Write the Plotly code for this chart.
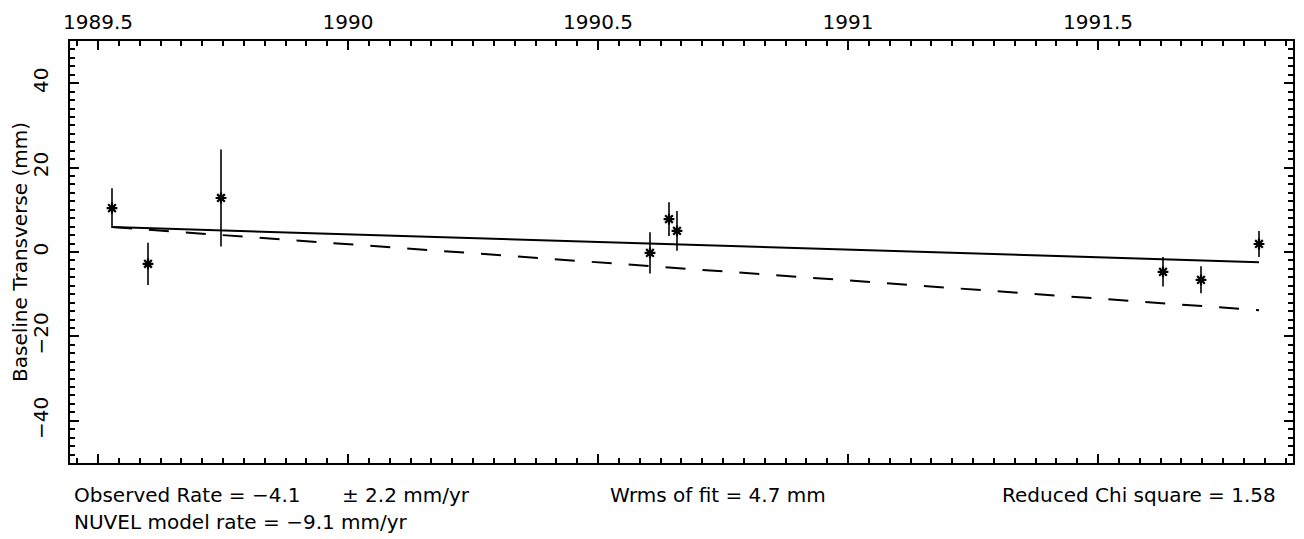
import plotly.graph_objects as go

# Data
years = [1989.528, 1989.600, 1989.746, 1990.604, 1990.642, 1990.658, 1991.630, 1991.706, 1991.822]
transverse = [10.4, -2.8, 12.8, -0.2, 7.8, 5.0, -4.7, -6.6, 1.9]
sigma = [4.7, 5.0, 11.5, 4.9, 4.0, 4.7, 3.5, 3.2, 3.1]

fit_years = [1989.528, 1991.822]
fit_values = [5.9, -2.4]          # observed rate fit (solid)
model_values = [5.9, -13.8]       # NUVEL model rate (dashed)

x_ticks = [1989.5, 1990, 1990.5, 1991, 1991.5]
x_tick_labels = ["1989.5", "1990", "1990.5", "1991", "1991.5"]
y_ticks = [-40, -20, 0, 20, 40]
y_tick_labels = ["\u221240", "\u221220", "0", "20", "40"]

FONT = "DejaVu Sans"

fig = go.Figure()

fig.add_trace(go.Scatter(
    x=fit_years, y=fit_values, mode="lines",
    line=dict(color="black", width=2), showlegend=False, hoverinfo="skip"))
fig.add_trace(go.Scatter(
    x=fit_years, y=model_values, mode="lines",
    line=dict(color="black", width=2, dash="20px,17px"), showlegend=False, hoverinfo="skip"))
fig.add_trace(go.Scatter(
    x=years, y=transverse, mode="markers",
    marker=dict(symbol="asterisk-open", size=9, color="black", line=dict(color="black", width=2.2)),
    error_y=dict(type="data", array=sigma, visible=True, color="black", thickness=1.6, width=0),
    showlegend=False))

axis_common = dict(
    showline=True, linecolor="black", linewidth=2, mirror="allticks",
    ticks="inside", ticklen=9, tickwidth=1.5, tickcolor="black",
    showgrid=False, zeroline=False, automargin=False,
    tickfont=dict(family=FONT, size=20, color="black"),
)

fig.update_layout(
    width=1296, height=531,
    margin=dict(l=62, r=11, t=33, b=76),
    paper_bgcolor="white", plot_bgcolor="white",
    font=dict(family=FONT, color="black"),
    xaxis=dict(
        range=[1989.444, 1991.890], side="top",
        tickmode="array", tickvals=x_ticks, ticktext=x_tick_labels,
        ticklabelstandoff=2,
        minor=dict(ticks="inside", dtick=0.5 / 12, tick0=1989.5, ticklen=5, tickwidth=1.5, tickcolor="black"),
        **axis_common),
    yaxis=dict(
        range=[-50, 50],
        tickmode="array", tickvals=y_ticks, ticktext=y_tick_labels, tickangle=-90,
        ticklabelstandoff=12,
        minor=dict(ticks="inside", dtick=2, tick0=0, ticklen=5, tickwidth=1.5, tickcolor="black"),
        title=dict(text="Baseline Transverse (mm)", font=dict(family=FONT, size=20, color="black"), standoff=4),
        **axis_common),
)

ann_font = dict(family=FONT, size=20, color="black")
notes = [
    ("Observed Rate = \u22124.1", 0.0016, -0.076, "left"),
    ("\u00b1 2.2 mm/yr", 0.2208, -0.076, "left"),
    ("Wrms of fit = 4.7 mm", 0.44, -0.076, "left"),
    ("Reduced Chi square = 1.58", 0.9877, -0.076, "right"),
    ("NUVEL model rate = \u22129.1 mm/yr", 0.0016, -0.140, "left"),
]
for text, x, y, anchor in notes:
    fig.add_annotation(text=text, xref="paper", yref="paper", x=x, y=y,
                       xanchor=anchor, yanchor="middle", showarrow=False, font=ann_font)

fig.write_html("out.html")
